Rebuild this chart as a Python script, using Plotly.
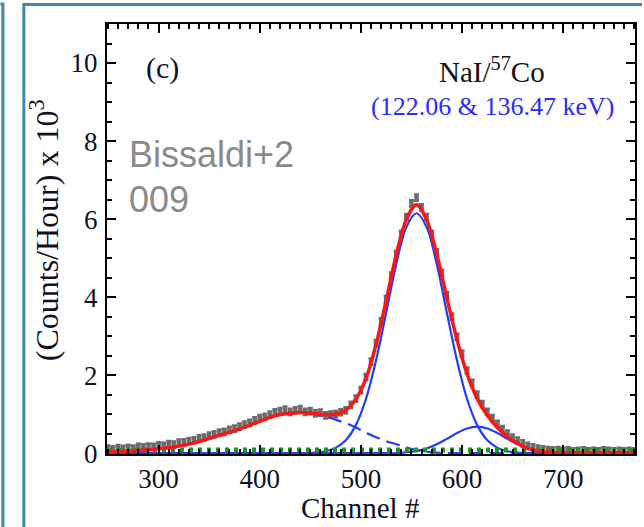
import plotly.graph_objects as go

# ---------------- data ----------------
# measured spectrum, 5-channel bins
data_ch = list(range(250, 771, 5))
data_counts = [
    0.12, 0.10, 0.13, 0.11, 0.14, 0.12, 0.16, 0.15, 0.17, 0.16,   # 250-295
    0.20, 0.19, 0.23, 0.22, 0.27, 0.28, 0.31, 0.33, 0.38, 0.40,   # 300-345
    0.45, 0.48, 0.53, 0.55, 0.60, 0.63, 0.68, 0.73, 0.78, 0.84,   # 350-395
    0.90, 0.93, 0.99, 1.05, 1.08, 1.12, 1.06, 1.10, 1.13, 1.06,   # 400-445
    1.08, 1.02, 1.04, 0.97, 0.99, 1.00, 1.05, 1.10, 1.24, 1.40,   # 450-495
    1.62, 1.95, 2.35, 2.82, 3.38, 3.95, 4.55, 5.10, 5.62, 6.05,   # 500-545
    6.40, 6.55, 6.30, 6.05, 5.62, 5.15, 4.62, 4.05, 3.50, 2.98,   # 550-595
    2.55, 2.12, 1.80, 1.50, 1.26, 1.06, 0.90, 0.75, 0.62, 0.50,   # 600-645
    0.40, 0.32, 0.25, 0.19, 0.15, 0.12, 0.10, 0.08, 0.07, 0.08,   # 650-695
    0.06, 0.07, 0.05, 0.06, 0.07, 0.05, 0.06, 0.05, 0.07, 0.06,   # 700-745
    0.05, 0.06, 0.05, 0.06, 0.05,                                 # 750-770
]
data_err = [0.08] * len(data_ch)

# fitted model curves, 10-channel grid
fit_ch = list(range(245, 776, 10))
fit_low = [  # broad low-energy component (dashed)
    0.03, 0.035, 0.045, 0.06, 0.08, 0.10, 0.125, 0.16, 0.205, 0.265,
    0.34, 0.42, 0.50, 0.58, 0.67, 0.77, 0.87, 0.96, 1.01, 1.035,
    1.035, 1.00, 0.94, 0.86, 0.77, 0.66, 0.52, 0.41, 0.31, 0.23,
    0.15, 0.08, 0.035, 0.015, 0.005, 0.0, 0.0, 0.0, 0.0, 0.0,
    0.0, 0.0, 0.0, 0.0, 0.0, 0.0, 0.0, 0.0, 0.0, 0.0,
    0.0, 0.0, 0.0, 0.0,
]
fit_main = [  # 122 keV photopeak
    0.0, 0.0, 0.0, 0.0, 0.0, 0.0, 0.0, 0.0, 0.0, 0.0,
    0.0, 0.0, 0.0, 0.0, 0.0, 0.0, 0.0, 0.0, 0.0, 0.0,
    0.005, 0.016, 0.05, 0.137, 0.33, 0.72, 1.39, 2.38, 3.60, 4.85,
    5.80, 6.15, 5.80, 4.85, 3.60, 2.38, 1.39, 0.72, 0.33, 0.137,
    0.05, 0.016, 0.005, 0.0, 0.0, 0.0, 0.0, 0.0, 0.0, 0.0,
    0.0, 0.0, 0.0, 0.0,
]
fit_second = [  # 136 keV line
    0.0, 0.0, 0.0, 0.0, 0.0, 0.0, 0.0, 0.0, 0.0, 0.0,
    0.0, 0.0, 0.0, 0.0, 0.0, 0.0, 0.0, 0.0, 0.0, 0.0,
    0.0, 0.0, 0.0, 0.0, 0.0, 0.0, 0.0, 0.0, 0.0, 0.0,
    0.024, 0.058, 0.122, 0.227, 0.367, 0.517, 0.635, 0.68, 0.635, 0.517,
    0.367, 0.227, 0.122, 0.058, 0.024, 0.008, 0.0, 0.0, 0.0, 0.0,
    0.0, 0.0, 0.0, 0.0,
]
fit_total = [
    0.03, 0.035, 0.045, 0.06, 0.08, 0.10, 0.125, 0.16, 0.205, 0.265,
    0.34, 0.42, 0.50, 0.58, 0.67, 0.77, 0.87, 0.96, 1.01, 1.035,
    1.04, 1.016, 0.99, 0.997, 1.10, 1.38, 1.91, 2.79, 3.91, 5.09,
    5.99, 6.37, 5.98, 5.10, 3.98, 2.91, 2.03, 1.40, 0.97, 0.66,
    0.42, 0.25, 0.13, 0.06, 0.03, 0.015, 0.01, 0.01, 0.01, 0.01,
    0.01, 0.01, 0.01, 0.01,
]
bkg_ch = [250, 770]
bkg_counts = [0.08, 0.08]

x_ticks = [300, 400, 500, 600, 700]
y_ticks = [0, 2, 4, 6, 8, 10]

# ---------------- figure ----------------
W, H = 644, 527
ML, MR, MT, MB = 107, 7, 24, 73
PW, PH = W - ML - MR, H - MT - MB


def px(xp):
    return (xp - ML) / PW


def py(yp):
    return 1 - (yp - MT) / PH


SERIF = "Liberation Serif"
SANS = "Liberation Sans"
BLUE = "#1f3dff"
RED = "#ff1414"
GRAY = "#6c6c6c"
INK = "#111122"

fig = go.Figure()
fig.add_trace(go.Scatter(
    x=data_ch, y=data_counts, mode="markers",
    marker=dict(symbol="square", size=4.5, color=GRAY),
    error_y=dict(type="data", array=data_err, color=GRAY, thickness=2.5, width=2.5),
    showlegend=False))
fig.add_trace(go.Scatter(x=fit_ch, y=fit_low, mode="lines", line_shape="spline",
                         line=dict(color=BLUE, width=2.2, dash="14px,7px"), showlegend=False))
fig.add_trace(go.Scatter(x=fit_ch, y=fit_main, mode="lines", line_shape="spline",
                         line=dict(color=BLUE, width=2.2), showlegend=False))
fig.add_trace(go.Scatter(x=fit_ch, y=fit_second, mode="lines", line_shape="spline",
                         line=dict(color=BLUE, width=2.2), showlegend=False))
fig.add_trace(go.Scatter(x=bkg_ch, y=bkg_counts, mode="lines",
                         line=dict(color="#1a9a1a", width=5, dash="4px,5px"), showlegend=False))
fig.add_trace(go.Scatter(x=fit_ch, y=fit_total, mode="lines", line_shape="spline",
                         line=dict(color=RED, width=3.5), showlegend=False))

axis_common = dict(
    showline=True, linecolor="black", linewidth=2, mirror="ticks",
    ticks="inside", ticklen=9, tickwidth=1.5, tickcolor="black",
    showgrid=False, zeroline=False,
    tickfont=dict(family=SERIF, size=27, color=INK),
)
fig.update_xaxes(range=[249, 771], tickvals=x_ticks, ticklabelstandoff=0,
                 minor=dict(ticks="inside", ticklen=5, dtick=10, tick0=0,
                            tickcolor="black", tickwidth=1.5),
                 **axis_common)
fig.update_yaxes(range=[-0.02, 11], tickvals=y_ticks, ticklabelstandoff=2,
                 minor=dict(ticks="inside", ticklen=5, dtick=0.5, tick0=0,
                            tickcolor="black", tickwidth=1.5),
                 **axis_common)

ann = [
    dict(text="(Counts/Hour) x 10<sup>3</sup>", x=px(44), y=py(230), textangle=-90,
         font=dict(family=SERIF, size=32, color=INK)),
    dict(text="Channel #", x=px(361), y=py(508),
         font=dict(family=SERIF, size=29, color=INK)),
    dict(text="(c)", x=px(163), y=py(68),
         font=dict(family=SERIF, size=30, color="#111133")),
    dict(text="NaI/<sup>57</sup>Co", x=px(493), y=py(70),
         font=dict(family=SERIF, size=29, color="#111111")),
    dict(text="(122.06 & 136.47 keV)", x=px(494), y=py(106),
         font=dict(family=SERIF, size=26, color="#2a2aff")),
    dict(text="Bissaldi+2", x=px(127), y=py(155), xanchor="left",
         font=dict(family=SANS, size=36, color="#8a8a8a")),
    dict(text="009", x=px(127), y=py(199), xanchor="left",
         font=dict(family=SANS, size=36, color="#8a8a8a")),
]
for a in ann:
    a.setdefault("xanchor", "center")
    a.update(xref="paper", yref="paper", yanchor="middle", showarrow=False)
fig.update_layout(annotations=ann)

FRAME = "#3f88a6"
shapes = [
    dict(type="path", path=f"M {px(0)} {py(4)} L {px(2.5)} {py(4)} L {px(2.5)} {py(527)}"),
    dict(type="path", path=f"M {px(23.5)} {py(527)} L {px(23.5)} {py(4.5)} L {px(644)} {py(4.5)}"),
]
for s in shapes:
    s.update(xref="paper", yref="paper", line=dict(color=FRAME, width=3), layer="above")
fig.update_layout(shapes=shapes)

fig.update_layout(
    width=W, height=H, margin=dict(l=ML, r=MR, t=MT, b=MB),
    paper_bgcolor="white", plot_bgcolor="white",
)
fig.write_html("out.html")
